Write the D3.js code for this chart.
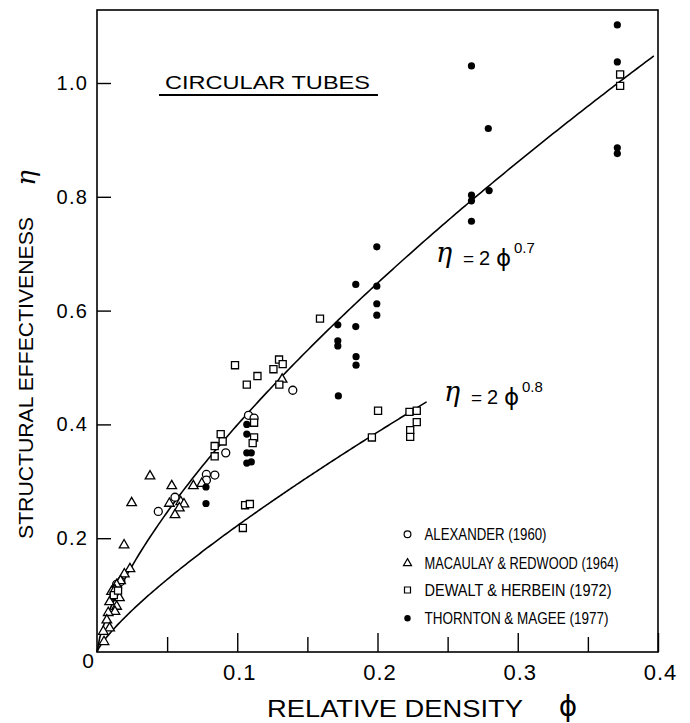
<!DOCTYPE html>
<html><head><meta charset="utf-8">
<script src="https://cdn.jsdelivr.net/npm/d3@7"></script>
<style>body{margin:0;background:#fff}svg{display:block}</style>
</head><body><svg id="c" width="690" height="723"></svg>
<script>
// ---- data: [relative density phi, structural effectiveness eta] ----
const alexander = [
  [0.1396,0.460],[0.0918,0.350],[0.078,0.312],[0.084,0.311],[0.078,0.302],
  [0.108,0.416],[0.112,0.411],[0.0556,0.272],[0.0437,0.247],[0.014,0.119],[0.017,0.124]
];
const macaulay = [
  [0.132,0.479],[0.0747,0.296],[0.0687,0.292],[0.0533,0.292],[0.0378,0.309],
  [0.0516,0.261],[0.0597,0.264],[0.062,0.260],[0.0587,0.253],[0.0556,0.241],
  [0.0247,0.262],[0.0193,0.188],[0.0235,0.146],[0.0195,0.137],[0.0168,0.125],
  [0.014,0.118],[0.0104,0.106],[0.012,0.097],[0.009,0.088],[0.014,0.080],
  [0.0128,0.071],[0.008,0.069],[0.007,0.056],[0.009,0.042],[0.005,0.018],
  [0.0045,0.036],[0.0127,0.109],[0.016,0.095]
];
const dewalt = [
  [0.373,1.015],[0.373,0.995],[0.159,0.586],
  [0.0984,0.504],[0.1068,0.470],[0.1144,0.485],[0.1258,0.497],[0.1298,0.514],[0.1324,0.506],[0.130,0.470],
  [0.2004,0.424],[0.196,0.377],
  [0.112,0.403],[0.112,0.377],[0.111,0.367],
  [0.0882,0.383],[0.0896,0.370],[0.0839,0.362],[0.0839,0.344],
  [0.1056,0.258],[0.109,0.260],[0.104,0.218],
  [0.2228,0.422],[0.228,0.424],[0.228,0.404],[0.2233,0.390],[0.2233,0.378],
  [0.012,0.100],[0.015,0.108]
];
const thornton = [
  [0.371,1.102],[0.371,1.037],[0.371,0.886],[0.371,0.876],
  [0.279,0.920],[0.2796,0.811],
  [0.267,1.030],[0.267,0.803],[0.267,0.793],[0.267,0.757],
  [0.1995,0.712],[0.1995,0.643],[0.1995,0.612],[0.1995,0.592],
  [0.1845,0.646],[0.1845,0.572],[0.1847,0.519],[0.1847,0.504],
  [0.1717,0.575],[0.1717,0.547],[0.1717,0.538],[0.1721,0.450],
  [0.1068,0.400],[0.1068,0.383],[0.1068,0.350],[0.110,0.350],[0.1068,0.332],[0.110,0.334],
  [0.0777,0.290],[0.0777,0.261]
];
// model curves eta = c * phi^n
const curveCoef = [2, 1.4];
const curveExp  = [0.7, 0.8];
const curveEnd  = [0.397, 0.235];
const curveLabelExp = ["0.7", "0.8"];

const xMajorTicks = [0.1, 0.2, 0.3, 0.4];
const xMinorTicks = [0.05, 0.15, 0.25, 0.35];
const yTicks = [0.2, 0.4, 0.6, 0.8, 1.0];
const legendLabels = ["ALEXANDER (1960)", "MACAULAY & REDWOOD (1964)", "DEWALT & HERBEIN (1972)", "THORNTON & MAGEE (1977)"];

// ---- drawing ----
const svg = d3.select("#c");
const FONT = "'Liberation Sans', Arial, sans-serif";
const x = d3.scaleLinear().domain([0, 0.4]).range([97, 658]);
const y = d3.scaleLinear().domain([0, 1]).range([652, 83]);
const frameTop = 10;

// frame
svg.append("rect").attr("x", x(0)).attr("y", frameTop).attr("width", x(0.4) - x(0)).attr("height", y(0) - frameTop)
  .attr("fill", "none").attr("stroke", "#000").attr("stroke-width", 1.6);

// y axis
const gy = svg.append("g").attr("transform", `translate(${x(0)},0)`)
  .call(d3.axisLeft(y).tickValues(yTicks).tickSize(-14).tickPadding(9).tickFormat(d3.format(".1f")));
gy.select(".domain").remove();
gy.selectAll("line").attr("stroke", "#000").attr("stroke-width", 1.4);
gy.selectAll("text").attr("font-family", FONT).attr("font-size", 20).attr("letter-spacing", 1.2).attr("fill", "#000");

// x axis
const gx = svg.append("g").attr("transform", `translate(0,${y(0)})`)
  .call(d3.axisBottom(x).tickValues(xMajorTicks).tickSize(-19).tickPadding(12).tickFormat(d3.format(".1f")));
gx.select(".domain").remove();
gx.selectAll("line").attr("stroke", "#000").attr("stroke-width", 1.4);
gx.selectAll("text").attr("font-family", FONT).attr("font-size", 22).attr("letter-spacing", 1).attr("fill", "#000").attr("dx", 2);
const gxm = svg.append("g").attr("transform", `translate(0,${y(0)})`)
  .call(d3.axisBottom(x).tickValues(xMinorTicks).tickSize(-15).tickFormat(""));
gxm.select(".domain").remove();
gxm.selectAll("line").attr("stroke", "#000").attr("stroke-width", 1.4);

svg.append("text").attr("x", 88).attr("y", 668).attr("text-anchor", "middle")
  .attr("font-family", FONT).attr("font-size", 21).text("0");

// curves
const line = d3.line().x(d => x(d[0])).y(d => y(d[1])).curve(d3.curveLinear);
curveCoef.forEach((c, i) => {
  const pts = d3.range(0, 201).map(k => { const p = curveEnd[i] * k / 200; return [p, c * Math.pow(p, curveExp[i])]; });
  svg.append("path").attr("d", line(pts)).attr("fill", "none").attr("stroke", "#000").attr("stroke-width", 1.6);
});

// markers
const sw = 1.3;
svg.append("g").selectAll("circle").data(alexander).join("circle")
  .attr("cx", d => x(d[0])).attr("cy", d => y(d[1])).attr("r", 4)
  .attr("fill", "#fff").attr("stroke", "#000").attr("stroke-width", sw);
svg.append("g").selectAll("path").data(macaulay).join("path")
  .attr("transform", d => `translate(${x(d[0])},${y(d[1])})`)
  .attr("d", d3.symbol(d3.symbolTriangle, 40))
  .attr("fill", "#fff").attr("stroke", "#000").attr("stroke-width", sw);
svg.append("g").selectAll("path").data(dewalt).join("path")
  .attr("transform", d => `translate(${x(d[0])},${y(d[1])})`)
  .attr("d", d3.symbol(d3.symbolSquare, 50))
  .attr("fill", "#fff").attr("stroke", "#000").attr("stroke-width", sw);
svg.append("g").selectAll("circle").data(thornton).join("circle")
  .attr("cx", d => x(d[0])).attr("cy", d => y(d[1])).attr("r", 3.6)
  .attr("fill", "#000");

// title box text
svg.append("text").attr("x", 165).attr("y", 88.5).attr("font-family", FONT).attr("font-size", 19)
  .attr("textLength", 205).attr("lengthAdjust", "spacingAndGlyphs").text("CIRCULAR TUBES");
svg.append("line").attr("x1", 159).attr("x2", 378).attr("y1", 95).attr("y2", 95).attr("stroke", "#000").attr("stroke-width", 1.8);

// curve labels
const labelPos = [[436, 265], [444, 404]];
labelPos.forEach((p, i) => {
  const g = svg.append("g").attr("transform", `translate(${p[0]},${p[1]})`).attr("font-family", FONT);
  g.append("text").attr("x", 0).attr("y", -3).attr("font-size", 27).attr("font-family", "'DejaVu Serif', serif").attr("font-style", "italic").text("η");
  g.append("text").attr("x", 27).attr("y", 0).attr("font-size", 19).text("=");
  g.append("text").attr("x", 43).attr("y", 0).attr("font-size", 20).text("2");
  g.append("text").attr("x", 60).attr("y", 1).attr("font-size", 23).attr("font-family", "'DejaVu Sans', sans-serif").text("ϕ");
  g.append("text").attr("x", 78).attr("y", -12).attr("font-size", 15).text(curveLabelExp[i]);
});

// legend
const legSeries = ["circle", "triangle", "square", "filled"];
const legY = [534.3, 563.3, 590, 618.3];
const legLen = [122, 194, 187, 184];
legSeries.forEach((s, i) => {
  const cx = 407.5, cy = legY[i];
  if (s === "circle") svg.append("circle").attr("cx", cx).attr("cy", cy).attr("r", 3.4).attr("fill", "#fff").attr("stroke", "#000").attr("stroke-width", 1.2);
  if (s === "triangle") svg.append("path").attr("transform", `translate(${cx},${cy})`).attr("d", d3.symbol(d3.symbolTriangle, 28)).attr("fill", "#fff").attr("stroke", "#000").attr("stroke-width", 1.2);
  if (s === "square") svg.append("path").attr("transform", `translate(${cx},${cy})`).attr("d", d3.symbol(d3.symbolSquare, 36)).attr("fill", "#fff").attr("stroke", "#000").attr("stroke-width", 1.2);
  if (s === "filled") svg.append("circle").attr("cx", cx).attr("cy", cy).attr("r", 3.2).attr("fill", "#000");
  svg.append("text").attr("x", 424.5).attr("y", cy + 6).attr("font-family", FONT).attr("font-size", 16)
    .attr("textLength", legLen[i]).attr("lengthAdjust", "spacingAndGlyphs").text(legendLabels[i]);
});

// axis titles
svg.append("text").attr("x", 267).attr("y", 717).attr("font-family", FONT).attr("font-size", 24)
  .attr("textLength", 256).attr("lengthAdjust", "spacingAndGlyphs").text("RELATIVE DENSITY");
svg.append("text").attr("x", 568).attr("y", 716).attr("text-anchor", "middle").attr("font-family", "'DejaVu Sans', sans-serif").attr("font-size", 28).text("ϕ");

svg.append("text").attr("transform", "translate(33,539) rotate(-90)").attr("font-family", FONT).attr("font-size", 21)
  .attr("textLength", 322).attr("lengthAdjust", "spacingAndGlyphs").text("STRUCTURAL EFFECTIVENESS");
svg.append("text").attr("transform", "translate(35,178) rotate(-90)").attr("text-anchor", "middle")
  .attr("font-family", "'DejaVu Serif', serif").attr("font-style", "italic").attr("font-size", 26).text("η");
</script>
</body></html>
